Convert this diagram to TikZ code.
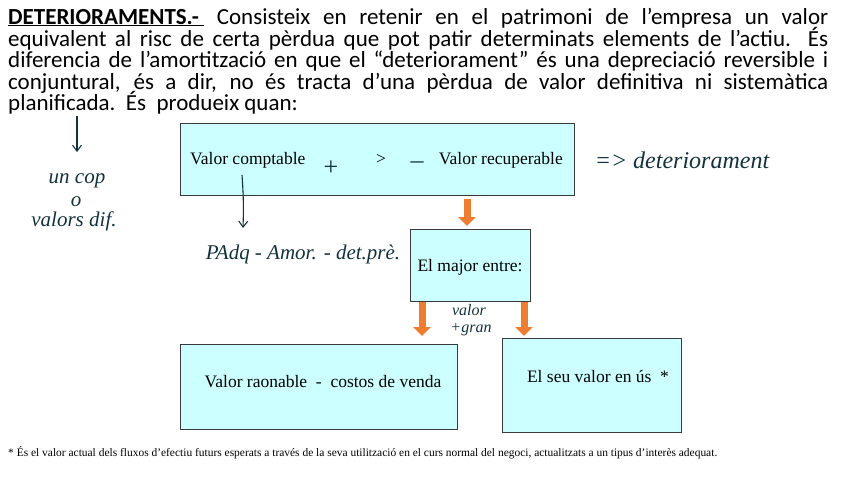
\documentclass[tikz,border=0pt]{standalone}
\usepackage{fontspec}
\setmainfont{Liberation Serif}
\newfontfamily\carl{Carlito}
\usetikzlibrary{arrows.meta}
\definecolor{boxfill}{HTML}{CCFFFF}
\definecolor{boxline}{HTML}{3A3A3A}
\definecolor{orng}{HTML}{ED7D31}
\definecolor{ink}{HTML}{12323F}
\tikzset{
  cbox/.style={draw=boxline, fill=boxfill, line width=0.9pt},
  btxt/.style={font=\fontsize{17.5}{19}\selectfont, inner sep=0pt, text=black},
  hand/.style={font=\fontsize{21}{22}\selectfont\itshape, text=ink, inner sep=0pt},
  inkarrow/.style={draw=ink, line width=1.1pt, -{Straight Barb[length=6pt,width=9pt]}},
  oarrow/.style={draw=orng, line width=7pt, -{Triangle[length=9pt,width=17pt]}},
  para/.style={font=\carl\fontsize{23}{23}\selectfont, inner sep=0pt, anchor=base west},
}
\begin{document}
\begin{tikzpicture}[x=1pt,y=-1pt]
\useasboundingbox (0,0) rectangle (848,477);
% paragraph
\node[para] (l1) at (8,24) {\makebox[820pt][s]{\underline{\textbf{DETERIORAMENTS.-}\ } Consisteix en retenir en el patrimoni de l’empresa un valor}};
\node[para] (l2) at (8,46) {\makebox[820pt][s]{equivalent al risc de certa pèrdua que pot patir determinats elements de l’actiu. És}};
\node[para] (l3) at (8,67.5) {\makebox[820pt][s]{diferencia de l’amortització en que el “deteriorament” és una depreciació reversible i}};
\node[para] (l4) at (8,89) {\makebox[820pt][s]{conjuntural, és a dir, no és tracta d’una pèrdua de valor definitiva ni sistemàtica}};
\node[para] (l5) at (8,110.5) {planificada.\ \ És\ \ produeix quan:};
% boxes
\draw[cbox] (180,123) rectangle (574,195);
\draw[cbox] (410,229) rectangle (530,301);
\draw[cbox] (180,344) rectangle (457,429);
\draw[cbox] (502,338) rectangle (681,432);
% box texts
\node[btxt, anchor=west] (vc) at (190,160) {Valor comptable};
\node[btxt] (gt) at (381,159) {>};
\node[btxt, anchor=east] (vr) at (563,160) {Valor recuperable};
\node[btxt] (me) at (470,267) {El major entre:};
\node[btxt] (rv) at (323,382) {Valor raonable\ \ -\ \ costos de venda};
\node[btxt] (vu) at (598,376) {El seu valor en ús\ \ *};
% orange arrows
\coordinate (o1a) at (467,199);
\coordinate (o1b) at (467,226);
\draw[oarrow] (o1a) -- (o1b);
\coordinate (o2a) at (422,302);
\coordinate (o2b) at (422,336);
\draw[oarrow] (o2a) -- (o2b);
\coordinate (o3a) at (524,302);
\coordinate (o3b) at (524,336);
\draw[oarrow] (o3a) -- (o3b);
% handwritten
\node[hand, font=\fontsize{26}{26}\selectfont] (plus) at (331,168) {+};
\node[hand, font=\fontsize{26}{26}\selectfont] (minus) at (417,165) {–};
\coordinate (h1a) at (77,116);
\coordinate (h1b) at (77,152);
\draw[inkarrow] (h1a) -- (h1b);
\node[hand] (uncop) at (77,181) {un cop};
\node[hand] (o) at (76,202) {o};
\node[hand] (vd) at (74,221) {valors dif.};
\coordinate (h2a) at (242,175);
\coordinate (h2b) at (243,228);
\draw[inkarrow] (h2a) to[bend left=3] (h2b);
\node[hand, font=\fontsize{21}{22}\selectfont\itshape] (padq) at (303,254) {PAdq - Amor. - det.prè.};
\node[hand, font=\fontsize{24}{25}\selectfont\itshape] (det) at (682,160) {=> deteriorament};
\node[hand, font=\fontsize{16}{16}\selectfont\itshape] (vg1) at (469,310) {valor};
\node[hand, font=\fontsize{16}{16}\selectfont\itshape] (vg2) at (471,330) {+gran};
% footnote
\node[anchor=base west, inner sep=0pt, font=\fontsize{9}{10}\selectfont] (fn) at (8,456) {\resizebox{709pt}{!}{* És el valor actual dels fluxos d’efectiu futurs esperats a través de la seva utilització en el curs normal del negoci, actualitzats a un tipus d’interès adequat.}};
\end{tikzpicture}
\end{document}
